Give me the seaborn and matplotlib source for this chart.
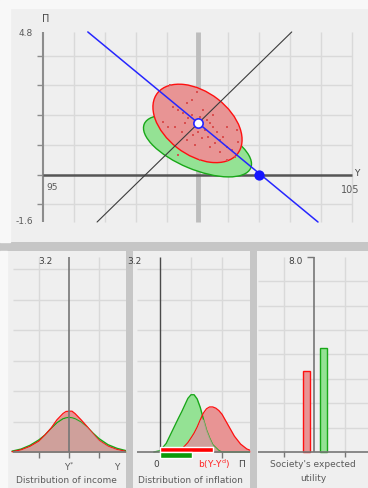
import matplotlib
matplotlib.use('Agg')
import matplotlib.pyplot as plt
from matplotlib.patches import Ellipse, Rectangle
import numpy as np
import seaborn as sns

sns.set_theme(style='white')
plt.rcParams['font.family'] = ['DejaVu Sans']
plt.rcParams['mathtext.fontset'] = 'dejavusans'

# =========================
# DATA
# =========================
# top panel: output Y against inflation Pi
blue_line_y = [96.45, 103.9]
blue_line_pi = [4.8, -1.6]
black_line_y = [96.75, 103.05]
black_line_pi = [-1.6, 4.8]
expected_y, expected_pi = 100.0, 1.72
natural_y, natural_pi = 102.0, 0.0
red_center, red_w, red_h, red_angle = (100.0, 1.72), 3.3, 2.1, -39
green_center, green_w, green_h, green_angle = (100.0, 0.96), 3.75, 1.58, -23.5
dots_y = [99.11, 99.97, 99.65, 99.81, 99.22, 99.38, 99.54, 99.70, 99.81, 100.08,
          100.19, 100.30, 100.40, 100.51, 100.24, 100.03, 99.86, 100.14, 100.35, 100.62,
          100.73, 100.83, 100.57, 100.40, 100.94, 101.11, 100.73, 101.21, 99.38, 100.08,
          100.94, 101.32, 98.89, 99.05, 99.27, 99.49, 99.65, 99.92, 99.60, 100.51,
          100.94, 101.27]
dots_pi = [3.01, 2.79, 2.40, 2.51, 2.28, 2.17, 2.06, 1.89, 2.00, 1.95,
           2.17, 1.84, 1.72, 1.61, 1.50, 1.44, 1.33, 1.22, 1.27, 1.44,
           1.16, 1.27, 1.05, 0.94, 0.94, 0.82, 0.77, 0.60, 0.66, 0.49,
           0.49, 1.10, 1.78, 1.61, 1.61, 1.44, 1.16, 0.99, 1.72, 2.00,
           1.61, 1.50]

# distribution of income (Y - Y*)
income_x = [-1.9, -1.6, -1.3, -1.0, -0.8, -0.6, -0.4, -0.2, -0.1, 0.0,
            0.1, 0.2, 0.4, 0.6, 0.8, 1.0, 1.3, 1.6, 1.95]
income_green = [0.014, 0.048, 0.11, 0.20, 0.28, 0.385, 0.48, 0.545, 0.56, 0.567,
                0.56, 0.545, 0.49, 0.41, 0.31, 0.22, 0.12, 0.06, 0.016]
income_red = [0.004, 0.035, 0.093, 0.18, 0.28, 0.39, 0.53, 0.632, 0.665, 0.67,
              0.67, 0.632, 0.53, 0.42, 0.30, 0.19, 0.095, 0.04, 0.005]

# distribution of inflation
infl_x = [-0.2, 0.0, 0.2, 0.4, 0.6, 0.7, 0.8, 0.9, 1.0, 1.1, 1.2, 1.3,
          1.4, 1.5, 1.6, 1.7, 1.8, 1.9, 2.0, 2.2, 2.4, 2.6, 2.8, 3.0]
infl_green = [0.0, 0.02, 0.14, 0.35, 0.56, 0.66, 0.77, 0.88, 0.94, 0.94, 0.87, 0.73,
              0.54, 0.36, 0.23, 0.12, 0.07, 0.02, 0.0, 0.0, 0.0, 0.0, 0.0, 0.0]
infl_red = [0.0, 0.0, 0.0, 0.0, 0.0, 0.05, 0.10, 0.155, 0.23, 0.31, 0.41, 0.53,
            0.64, 0.71, 0.74, 0.74, 0.72, 0.68, 0.62, 0.44, 0.26, 0.13, 0.05, 0.01]
mean_infl_red = 1.72
mean_infl_green = 1.02

# society's expected utility
utility = [3.31, 4.28]

# =========================
# STYLE
# =========================
W, H = 368, 488
BG = '#efefef'
SEP = '#c6c6c6'
GRID = '#d9d9d9'
AXIS = '#767676'
TXT = '#5a5a5a'
RED_EDGE = '#ff1010'
RED_FILL = '#e89494'
GREEN_EDGE = '#18a818'
GREEN_FILL = '#94e294'
BOTH_FILL = '#c9a49e'
FS = 6.5

fig = plt.figure(figsize=(W / 100, H / 100), dpi=100, facecolor=SEP)
for (x0, y0, x1, y1) in [(0, 0, W, 8), (0, 0, 10, 242), (0, 251, 7, H)]:
    fig.patches.append(Rectangle((x0 / W, 1 - y1 / H), (x1 - x0) / W, (y1 - y0) / H,
                                 transform=fig.transFigure, color='#f8f8f8', zorder=0))


def panel(px0, py0, px1, py1, xref, xval, xscale, yref, yval, yscale):
    ax = fig.add_axes([px0 / W, 1 - py1 / H, (px1 - px0) / W, (py1 - py0) / H])
    ax.set_facecolor(BG)
    ax.set_xlim(xval + (px0 - xref) / xscale, xval + (px1 - xref) / xscale)
    ax.set_ylim(yval - (py1 - yref) / yscale, yval + (yref - py0) / yscale)
    for s in ax.spines.values():
        s.set_visible(False)
    ax.set_xticks([])
    ax.set_yticks([])
    return ax


def two_densities(ax, x, green, red, red_from=0):
    both = np.minimum(green, red)
    ax.fill_between(x, green, color=GREEN_FILL, lw=0, zorder=1)
    ax.fill_between(x, red, color=RED_FILL, lw=0, zorder=1)
    sns.lineplot(x=x, y=green, color=GREEN_EDGE, lw=1, ax=ax, zorder=2)
    sns.lineplot(x=x[red_from:], y=red[red_from:], color=RED_EDGE, lw=0.9, ax=ax, zorder=2)
    ax.fill_between(x, both, color=BOTH_FILL, alpha=0.8, lw=0, zorder=3)


# =========================
# TOP PANEL
# =========================
ax = panel(10, 8, W, 242, 43, 95, 30.9, 174.5, 0, 29.7)
ax.spines['top'].set_visible(True)
ax.spines['left'].set_visible(True)
ax.spines['top'].set_color('#c4c4c4')
ax.spines['left'].set_color('#c4c4c4')
ax.vlines([96, 97, 98, 99, 101, 102, 103, 104, 105], -1.6, 4.8, color=GRID, lw=1, zorder=0.5)
ax.hlines([-1, 1, 2, 3, 4], 95, 105, color=GRID, lw=1, zorder=0.5)
ax.vlines(100, -1.6, 4.8, color='#bdbdbd', lw=3.5, zorder=0.6)
ax.vlines(95, -1.6, 4.8, color='#8c8c8c', lw=1.5, zorder=0.6)
ax.hlines([-1, 0, 1, 2, 3, 4], 94.82, 95, color='#8c8c8c', lw=1, zorder=0.6)
ax.hlines(0, 95, 105, color='#555555', lw=1.8, zorder=0.7)

ax.add_patch(Ellipse(green_center, green_w, green_h, angle=green_angle,
                     facecolor=GREEN_FILL, edgecolor=GREEN_EDGE, lw=1, zorder=2))
ax.add_patch(Ellipse(red_center, red_w, red_h, angle=red_angle,
                     facecolor=RED_FILL, edgecolor=RED_EDGE, lw=1, zorder=3))
sns.scatterplot(x=dots_y, y=dots_pi, s=4, marker='s', color='#d94f4f',
                linewidth=0, ax=ax, zorder=4)
sns.lineplot(x=black_line_y, y=black_line_pi, color='#3c3c3c', lw=0.8, ax=ax, zorder=5)
sns.lineplot(x=blue_line_y, y=blue_line_pi, color='#2626ff', lw=1.1, ax=ax, zorder=5)
ax.scatter([expected_y], [expected_pi], s=45, color='white', edgecolor='#2626ff',
           linewidth=1.2, zorder=6)
ax.scatter([natural_y], [natural_pi], s=55, color='#1515ff', linewidth=0, zorder=6)

ax.text(95.1, 5.24, 'Π', fontsize=7, color='#444444', ha='center', va='center')
ax.text(105.16, 0.05, 'Y', fontsize=6.5, color='#444444', ha='center', va='center')
ax.text(94.68, 4.76, '4.8', fontsize=FS, color=TXT, ha='right', va='center')
ax.text(94.68, -1.57, '-1.6', fontsize=FS, color=TXT, ha='right', va='center')
ax.text(95.29, -0.45, '95', fontsize=FS, color=TXT, ha='center', va='center')
ax.text(104.94, -0.52, '105', fontsize=7, color=TXT, ha='center', va='center')

# =========================
# DISTRIBUTION OF INCOME
# =========================
ax = panel(7, 251, 126, H, 69, 0, 30, 452, 0, 60.9)
ax.hlines([0.5, 1.0, 1.5, 2.0, 2.5, 3.0], -1.87, 2.0, color=GRID, lw=1, zorder=0.5)
ax.vlines([-1, 1], 0, 3.2, color=GRID, lw=1, zorder=0.5)
two_densities(ax, np.array(income_x), np.array(income_green), np.array(income_red))
ax.vlines(0, 0, 3.2, color=AXIS, lw=1.2, zorder=4)
ax.hlines(0, -1.87, 2.0, color=AXIS, lw=1.2, zorder=4)
ax.vlines([-1, 0, 1], -0.1, 0, color=AXIS, lw=1, zorder=4)
ax.text(-0.55, 3.12, '3.2', fontsize=FS, color='#404040', ha='right', va='center')
ax.text(0, -0.25, 'Y$^{*}$', fontsize=FS, color=TXT, ha='center', va='center')
ax.text(1.6, -0.25, 'Y', fontsize=FS, color=TXT, ha='center', va='center')
ax.text(-0.1, -0.46, 'Distribution of income', fontsize=FS, color=TXT,
        ha='center', va='center')

# =========================
# DISTRIBUTION OF INFLATION
# =========================
ax = panel(133, 251, 250, H, 160, 0, 31, 452, 0, 60.9)
ax.hlines([0.5, 1.0, 1.5, 2.0, 2.5, 3.0], -0.74, 3.0, color=GRID, lw=1, zorder=0.5)
ax.vlines([1, 2], 0, 3.2, color=GRID, lw=1, zorder=0.5)
two_densities(ax, np.array(infl_x), np.array(infl_green), np.array(infl_red), red_from=4)
ax.vlines(0, 0, 3.2, color='#4a4a4a', lw=1, zorder=4)
ax.hlines(0, -0.74, 3.0, color=AXIS, lw=1.2, zorder=4)
ax.vlines([1, 2], -0.1, 0, color=AXIS, lw=1, zorder=4)
ax.barh([0.045], [mean_infl_red], height=0.09, left=0, color='#ff0000', zorder=5)
ax.barh([-0.05], [mean_infl_green], height=0.09, left=0, color='#0b9a0b', zorder=5)
ax.text(-0.58, 3.12, '3.2', fontsize=FS, color='#404040', ha='right', va='center')
ax.text(-0.13, -0.21, '0', fontsize=FS, color='#404040', ha='center', va='center')
ax.text(1.74, -0.21, 'b(Y-Y$^{\\mathrm{d}}$)', fontsize=FS, color='#ff2020',
        ha='center', va='center')
ax.text(2.62, -0.21, 'Π', fontsize=FS, color='#404040', ha='center', va='center')
ax.text(0.97, -0.46, 'Distribution of inflation', fontsize=FS, color=TXT,
        ha='center', va='center')

# =========================
# EXPECTED UTILITY
# =========================
ax = panel(257, 251, W, H, 314, 0, 30.5, 452, 0, 24.4)
ax.hlines([1, 2, 3, 4, 5, 6, 7], -1.84, 1.8, color=GRID, lw=1, zorder=0.5)
ax.vlines([-1, 1], 0, 8, color=GRID, lw=1, zorder=0.5)
ax.bar([-0.25, 0.31], utility, width=0.24, color=[RED_FILL, GREEN_FILL],
       edgecolor=[RED_EDGE, GREEN_EDGE], lw=1, zorder=3)
ax.vlines(0, 0, 8, color=AXIS, lw=1.2, zorder=4)
ax.hlines(8, -0.23, 0, color=AXIS, lw=1, zorder=4)
ax.hlines(0, -1.84, 1.8, color=AXIS, lw=1.2, zorder=4)
ax.vlines([-1, 1], -0.2, 0, color=AXIS, lw=1, zorder=4)
ax.text(-0.36, 7.79, '8.0', fontsize=FS, color='#404040', ha='right', va='center')
ax.text(-0.03, -0.53, "Society's expected", fontsize=FS, color=TXT,
        ha='center', va='center')
ax.text(-0.03, -1.07, 'utility', fontsize=FS, color=TXT, ha='center', va='center')

fig.savefig('out.png', dpi=100, facecolor=fig.get_facecolor())
